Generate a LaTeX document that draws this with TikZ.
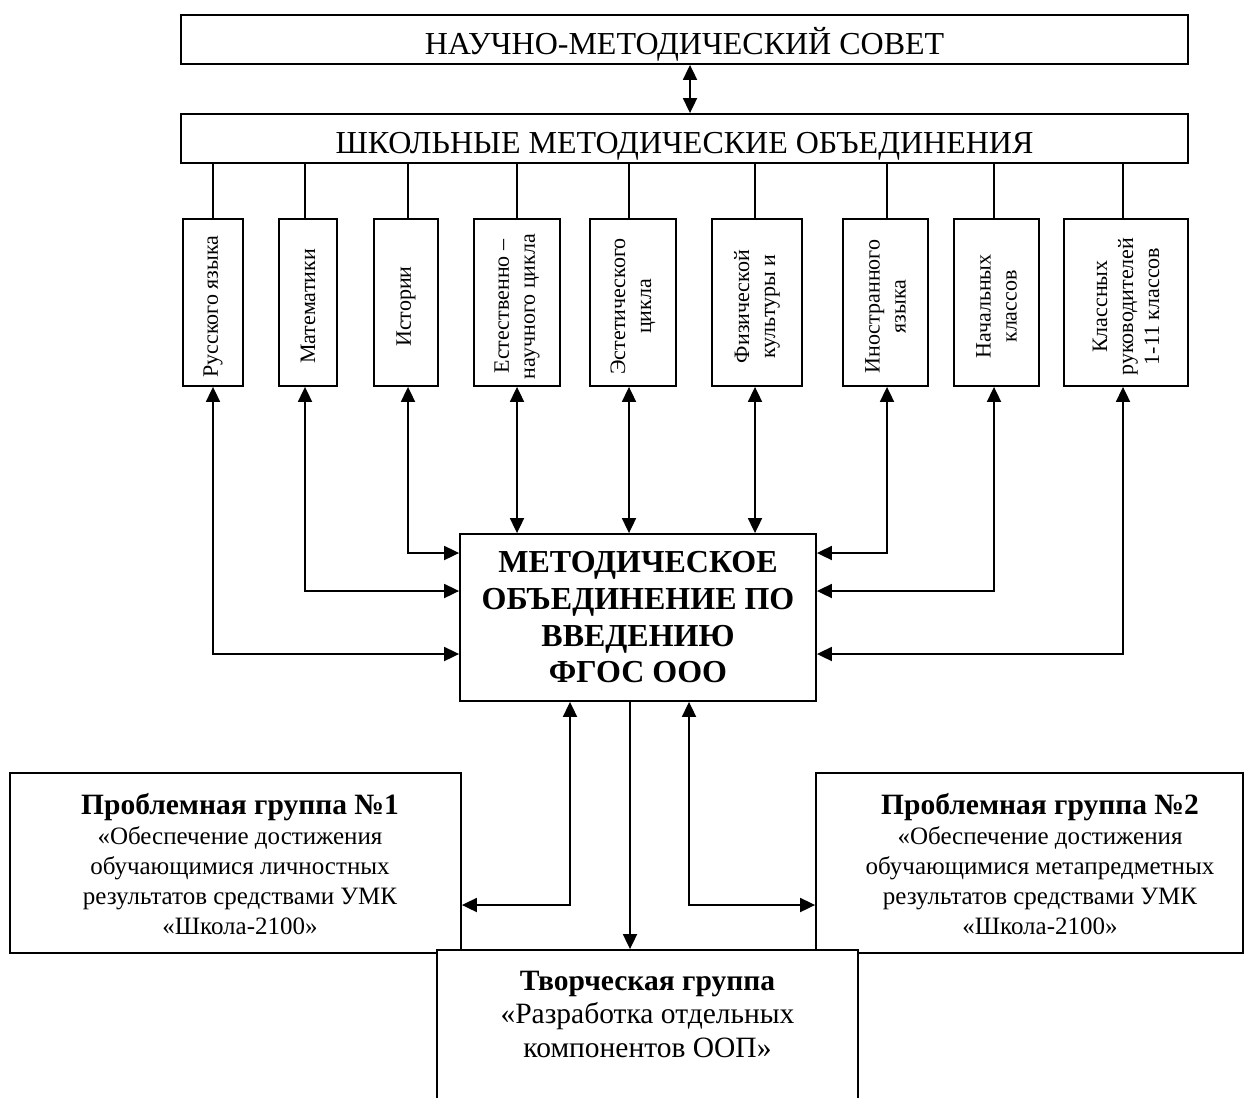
\documentclass[tikz,border=0pt]{standalone}
\usepackage{fontspec}
\setmainfont{Liberation Serif}
\usetikzlibrary{arrows.meta}
\begin{document}
\begin{tikzpicture}[x=1pt,y=-1pt,
  line width=1.8pt,
  >={Triangle[length=15pt,width=14pt]},
  box/.style={draw, line width=1.8pt, fill=white, inner sep=0pt},
  bigtitle/.style={box, minimum width=1007pt, minimum height=49pt,
     font=\fontsize{32}{38}\selectfont, text height=30pt, text depth=0pt},
  subj/.style={box, minimum height=167pt},
  vt/.style={rotate=90, align=center, inner sep=0pt, font=\fontsize{22}{26}\selectfont},
  grp/.style={align=center, inner sep=0pt, font=\fontsize{25}{30}\selectfont},
  conn/.style={line width=1.8pt}]
\useasboundingbox (0,0) rectangle (1246,1097);

% top boxes
\node[bigtitle] (nms) at (684.5,39.5) {НАУЧНО-МЕТОДИЧЕСКИЙ СОВЕТ};
\node[bigtitle] (shmo) at (684.5,138.5) {ШКОЛЬНЫЕ МЕТОДИЧЕСКИЕ ОБЪЕДИНЕНИЯ};
\draw[conn,<->] ([xshift=5.5pt]nms.south) -- ([xshift=5.5pt]shmo.north);

% subject boxes
\node[subj, minimum width=60pt]  (b1) at (213,302.5) {};
\node[subj, minimum width=58pt]  (b2) at (308,302.5) {};
\node[subj, minimum width=64pt]  (b3) at (406,302.5) {};
\node[subj, minimum width=86pt]  (b4) at (517,302.5) {};
\node[subj, minimum width=86pt]  (b5) at (633,302.5) {};
\node[subj, minimum width=90pt]  (b6) at (757,302.5) {};
\node[subj, minimum width=85pt]  (b7) at (885.5,302.5) {};
\node[subj, minimum width=85pt]  (b8) at (996.5,302.5) {};
\node[subj, minimum width=124pt] (b9) at (1126,302.5) {};

\node[vt] (t1) at ([yshift=-4pt]b1.center) {Русского языка};
\node[vt] (t2) at ([yshift=-4pt]b2.center) {Математики};
\node[vt] (t3) at ([yshift=-4pt]b3.center) {Истории};
\node[vt] (t4) at ([yshift=-4pt]b4.center) {Естественно –\\научного цикла};
\node[vt] (t5) at ([yshift=-4pt]b5.center) {Эстетического\\цикла};
\node[vt] (t6) at ([yshift=-4pt]b6.center) {Физической\\культуры и};
\node[vt] (t7) at ([yshift=-4pt]b7.center) {Иностранного\\языка};
\node[vt] (t8) at ([yshift=-4pt]b8.center) {Начальных\\классов};
\node[vt] (t9) at ([yshift=-4pt]b9.center) {Классных\\руководителей\\1-11 классов};

% lines from ШМО to subject boxes
\draw[conn] (b1.north) -- (b1.north |- shmo.south);
\draw[conn] ([xshift=-3pt]b2.north) -- ([xshift=-3pt]b2.north |- shmo.south);
\draw[conn] ([xshift=2pt]b3.north) -- ([xshift=2pt]b3.north |- shmo.south);
\draw[conn] (b4.north) -- (b4.north |- shmo.south);
\draw[conn] ([xshift=-4pt]b5.north) -- ([xshift=-4pt]b5.north |- shmo.south);
\draw[conn] ([xshift=-2pt]b6.north) -- ([xshift=-2pt]b6.north |- shmo.south);
\draw[conn] ([xshift=1.5pt]b7.north) -- ([xshift=1.5pt]b7.north |- shmo.south);
\draw[conn] ([xshift=-2.5pt]b8.north) -- ([xshift=-2.5pt]b8.north |- shmo.south);
\draw[conn] ([xshift=-3pt]b9.north) -- ([xshift=-3pt]b9.north |- shmo.south);

% central box
\node[box, minimum width=356pt, minimum height=167pt, align=center,
      font=\fontsize{32}{36.7}\selectfont\bfseries] (mo) at (638,617.5)
      {МЕТОДИЧЕСКОЕ\\ОБЪЕДИНЕНИЕ ПО\\ВВЕДЕНИЮ\\ФГОС ООО};

% connectors subject boxes <-> central box
\draw[conn,<->] (b1.south) |- ([yshift=-36.5pt]mo.west);
\draw[conn,<->] ([xshift=-3pt]b2.south) |- ([yshift=26.5pt]mo.west);
\draw[conn,<->] ([xshift=2pt]b3.south) |- ([yshift=64.5pt]mo.west);
\draw[conn,<->] (b4.south) -- (b4.south |- mo.north);
\draw[conn,<->] ([xshift=-4pt]b5.south) -- ([xshift=-4pt]b5.south |- mo.north);
\draw[conn,<->] ([xshift=-2pt]b6.south) -- ([xshift=-2pt]b6.south |- mo.north);
\draw[conn,<->] ([xshift=1.5pt]b7.south) |- ([yshift=64.5pt]mo.east);
\draw[conn,<->] ([xshift=-2.5pt]b8.south) |- ([yshift=26.5pt]mo.east);
\draw[conn,<->] ([xshift=-3pt]b9.south) |- ([yshift=-36.5pt]mo.east);

% bottom group boxes
\node[box, minimum width=451pt, minimum height=180pt] (pg1) at (235.5,863) {};
\node[box, minimum width=427pt, minimum height=180pt] (pg2) at (1029.5,863) {};
\node[grp] (pg1t) at (240,864) {{\fontsize{29.5}{31}\selectfont\bfseries Проблемная группа №1}\\«Обеспечение достижения\\обучающимися личностных\\результатов средствами УМК\\«Школа-2100»};
\node[grp] (pg2t) at (1040,864) {{\fontsize{29.5}{31}\selectfont\bfseries Проблемная группа №2}\\«Обеспечение достижения\\обучающимися метапредметных\\результатов средствами УМК\\«Школа-2100»};
\node[box, minimum width=421pt, minimum height=150pt] (tv) at (647.5,1025) {};
\node[grp, anchor=north, font=\fontsize{29.5}{33.5}\selectfont] (tvt) at (647.5,970) {\textbf{Творческая группа}\\«Разработка отдельных\\компонентов ООП»};

% connectors central box <-> groups
\draw[conn,<->] ([xshift=-68pt]mo.south) |- ([yshift=-42pt]pg1.east);
\draw[conn,<->] ([xshift=51pt]mo.south) |- ([yshift=-42pt]pg2.west);
\draw[conn,->] ([xshift=-8pt]mo.south) -- ([xshift=-8pt]mo.south |- tv.north);
\end{tikzpicture}
\end{document}
